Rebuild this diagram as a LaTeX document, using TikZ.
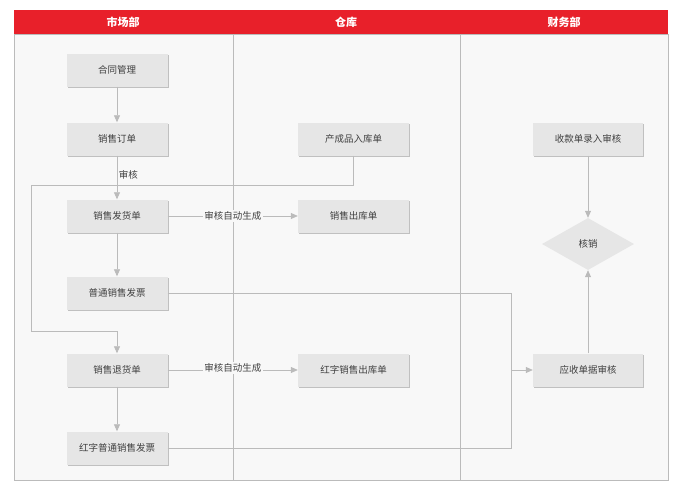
\documentclass[tikz,border=0pt]{standalone}
\usepackage{fontspec}
\setmainfont{Noto Sans CJK SC}
\usetikzlibrary{shapes.geometric,arrows.meta,shadows}
\definecolor{hdr}{HTML}{E8202A}
\definecolor{boxf}{HTML}{E6E6E6}
\definecolor{ln}{HTML}{BBBBBB}
\definecolor{bg}{HTML}{F8F8F8}
\tikzset{
 bx/.style={draw=none,fill=boxf,minimum width=101pt,minimum height=33pt,font=\fontsize{9.5}{11}\selectfont,text=black!75,
  drop shadow={shadow xshift=1pt,shadow yshift=-1.2pt,fill=black!30,opacity=0.8}},
 dm/.style={diamond,fill=boxf,minimum width=92pt,minimum height=52pt,aspect=1.8,inner sep=0pt,font=\fontsize{9.5}{11}\selectfont,text=black!75},
 cn/.style={draw=ln,line width=0.7pt},
 ar/.style={cn,-{Triangle[width=6pt,length=7pt,fill=ln]}},
 lb/.style={font=\fontsize{9.5}{11}\selectfont,text=black!75,fill=bg,inner sep=1.5pt},
 hd/.style={font=\bfseries\fontsize{11}{13}\selectfont,text=white}
}
\begin{document}
\begin{tikzpicture}[x=1pt,y=-1pt]
\useasboundingbox (0,0) rectangle (684,496);
\fill[white] (0,0) rectangle (684,496);
\fill[bg] (14,34) rectangle (668,480);
\draw[ln,line width=0.6pt] (14,34) rectangle (668,480);
\fill[hdr] (14,10) rectangle (668,34);
\draw[ln,line width=0.6pt] (233,34) -- (233,480) (460,34) -- (460,480);
\node[hd] (h1) at (123,22) {市场部};
\node[hd] (h2) at (346,22) {仓库};
\node[hd] (h3) at (564,22) {财务部};
\node[bx] (a) at (117,70) {合同管理};
\node[bx] (b) at (117,139) {销售订单};
\node[bx] (c) at (117,216) {销售发货单};
\node[bx] (d) at (117,293) {普通销售发票};
\node[bx] (e) at (117,370) {销售退货单};
\node[bx] (f) at (117,448) {红字普通销售发票};
\node[bx,minimum width=111pt] (g) at (353.5,139) {产成品入库单};
\node[bx,minimum width=111pt] (h) at (353.5,216) {销售出库单};
\node[bx,minimum width=111pt] (i) at (353.5,370) {红字销售出库单};
\node[bx,minimum width=110pt] (j) at (588,139) {收款单录入审核};
\node[dm] (k) at (588,244) {核销};
\node[bx,minimum width=110pt] (l) at (588,370) {应收单据审核};
\coordinate (p1) at (353.5,185);
\coordinate (p2) at (31,185);
\coordinate (p3) at (31,331);
\coordinate (p4) at (117,331);
\coordinate (q1) at (511,293);
\coordinate (q2) at (511,448);
\coordinate (q3) at (511,370);
\draw[ar] (a) -- (b);
\draw[ar] (b) -- node[lb,right,fill=none,pos=0.45]{审核} (c);
\draw[cn] (g.south) -- (p1) -- (p2) -- (p3) -- (p4);
\draw[ar] (p4) -- (e.north);
\draw[ar] (c) -- (d);
\draw[ar] (e) -- (f);
\draw[ar] (c) -- node[lb]{审核自动生成} (h);
\draw[ar] (e) -- node[lb,yshift=2pt]{审核自动生成} (i);
\draw[cn] (d.east) -- (q1) -- (q3);
\draw[cn] (f.east) -- (q2) -- (q3);
\draw[ar] (q3) -- (l.west);
\draw[ar] (l.north) -- (k.south);
\draw[ar] (j.south) -- (k.north);
\end{tikzpicture}
\end{document}
